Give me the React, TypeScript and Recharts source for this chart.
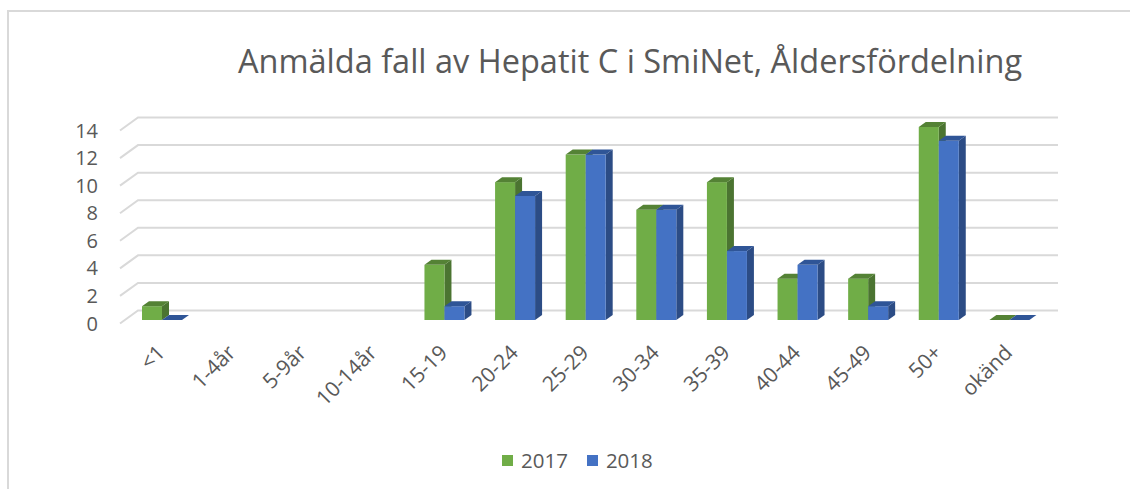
import React from 'react';
import { BarChart, Bar, XAxis, YAxis, CartesianGrid } from 'recharts';

const categories = ['<1', '1-4år', '5-9år', '10-14år', '15-19', '20-24', '25-29', '30-34', '35-39', '40-44', '45-49', '50+', 'okänd'];
const values2017: (number | null)[] = [1, null, null, null, 4, 10, 12, 8, 10, 3, 3, 14, 0];
const values2018: (number | null)[] = [0, null, null, null, 1, 9, 12, 8, 5, 4, 1, 13, 0];
const yTicks = [0, 2, 4, 6, 8, 10, 12, 14];
const seriesNames = ['2017', '2018'];

const data = categories.map((c, i) => ({ name: c, y2017: values2017[i], y2018: values2018[i] }));

const FONT = '"Open Sans", "DejaVu Sans", sans-serif';
const TEXT = '#595959';
const DX = 7;
const DY = -5;

const make3D = (front: string, top: string, side: string) => (props: any) => {
  const { x, y, width, height, value } = props;
  const v = Array.isArray(value) ? value[1] : value;
  if (v === null || v === undefined || isNaN(x) || isNaN(y)) return null;
  const h = Math.max(0, height || 0);
  const topPts = `${x},${y} ${x + DX},${y + DY} ${x + width + DX},${y + DY} ${x + width},${y}`;
  const sidePts = `${x + width},${y} ${x + width + DX},${y + DY} ${x + width + DX},${y + h + DY} ${x + width},${y + h}`;
  return (
    <g>
      {h > 0 && <polygon points={sidePts} fill={side} />}
      {h > 0 && <rect x={x} y={y} width={width} height={h} fill={front} />}
      <polygon points={topPts} fill={top} />
    </g>
  );
};

const GreenShape = make3D('#70ad47', '#548235', '#4b7431');
const BlueShape = make3D('#4472c4', '#2f5597', '#2c4c85');

const gridLine = (props: any) => {
  const { x1, x2, y1, key } = props;
  const y = y1;
  return (
    <path
      key={key}
      d={`M${x1 - 7},${y + 3.5} L${x1 + 11},${y - 9.5} L${x2 + 13},${y - 9.5}`}
      stroke="#d9d9d9"
      strokeWidth={2}
      fill="none"
    />
  );
};

const YTick = (props: any) => {
  const { y, payload } = props;
  return (
    <text x={98} y={y + 3.5} dy={7} textAnchor="end" fill={TEXT} fontSize={20} fontFamily={FONT}>
      {payload.value}
    </text>
  );
};

const XTick = (props: any) => {
  const { x, y, payload } = props;
  const px = x + 4;
  const py = y + 26;
  return (
    <text x={px} y={py} textAnchor="end" fill={TEXT} fontSize={21} fontFamily={FONT} transform={`rotate(-45 ${px} ${py})`}>
      {payload.value}
    </text>
  );
};

export default function App() {
  return (
    <div style={{ position: 'absolute', left: 0, top: 0, width: 1130, height: 489, background: '#fff', overflow: 'hidden' }}>
      <div style={{ position: 'absolute', left: 7, top: 10, width: 1123, height: 479, borderTop: '2px solid #d9d9d9', borderLeft: '2px solid #d9d9d9' }} />
      <div style={{ position: 'absolute', left: 0, width: 1130, top: 38, textAlign: 'center', paddingLeft: 130, boxSizing: 'border-box', fontFamily: FONT, fontSize: 32.5, color: TEXT, whiteSpace: 'nowrap' }}>
        Anmälda fall av Hepatit C i SmiNet, Åldersfördelning
      </div>
      <div style={{ position: 'absolute', left: 0, top: 0 }}>
        <BarChart width={1130} height={489} data={data} margin={{ top: 127, right: 85, left: 67, bottom: 109 }} barGap={0} barCategoryGap="21.7%">
          <CartesianGrid vertical={false} horizontal={gridLine as any} />
          <YAxis domain={[0, 14]} ticks={yTicks} width={60} axisLine={false} tickLine={false} tick={<YTick />} interval={0} />
          <XAxis dataKey="name" axisLine={false} tickLine={false} tick={<XTick />} interval={0} height={60} />
          <Bar dataKey="y2017" name={seriesNames[0]} fill="#70ad47" barSize={20} shape={GreenShape} isAnimationActive={false} />
          <Bar dataKey="y2018" name={seriesNames[1]} fill="#4472c4" barSize={20} shape={BlueShape} isAnimationActive={false} />
        </BarChart>
      </div>
      <div style={{ position: 'absolute', top: 446, left: 502, display: 'flex', alignItems: 'center', fontFamily: FONT, fontSize: 20.5, color: TEXT }}>
        <span style={{ width: 11, height: 11, background: '#70ad47', display: 'inline-block', marginRight: 8 }} />
        <span style={{ marginRight: 19 }}>{seriesNames[0]}</span>
        <span style={{ width: 11, height: 11, background: '#4472c4', display: 'inline-block', marginRight: 8 }} />
        <span>{seriesNames[1]}</span>
      </div>
    </div>
  );
}
